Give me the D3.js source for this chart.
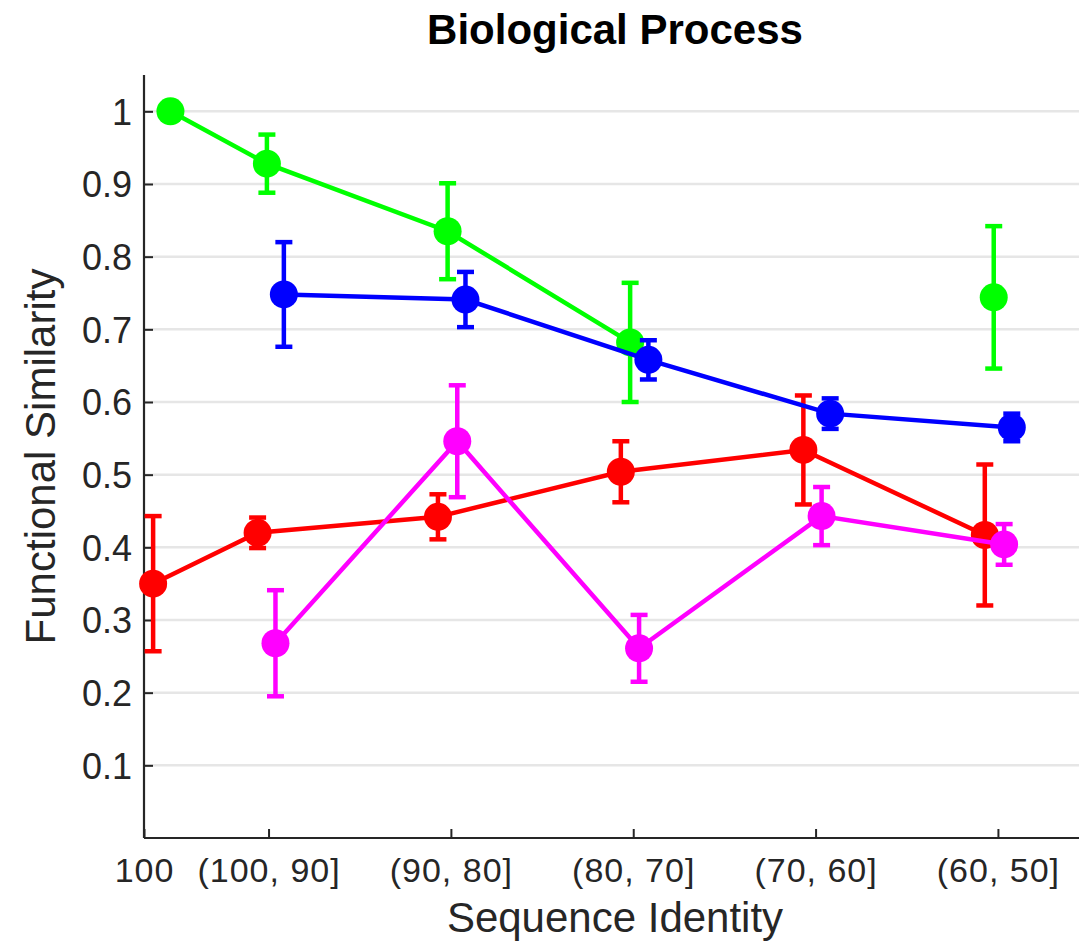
<!DOCTYPE html>
<html>
<head>
<meta charset="utf-8">
<script src="https://cdn.jsdelivr.net/npm/d3@7"></script>
<style>
  body { margin: 0; background: #fff; }
  svg text { font-family: "Liberation Sans", Arial, Helvetica, sans-serif; fill: #262626; }
</style>
</head>
<body>
<svg id="chart" width="1079" height="947"></svg>
<script>
// categories along the x axis and where their ticks sit
var categories = ["100", "(100, 90]", "(90, 80]", "(80, 70]", "(70, 60]", "(60, 50]"];
var tickPos = [0.317, 1, 2, 3, 4, 5];
var yTicks = [0.1, 0.2, 0.3, 0.4, 0.5, 0.6, 0.7, 0.8, 0.9, 1];

// series (x in axis units, mean, error)
var redX   = [0.367, 0.940, 1.929, 2.932, 3.933, 4.928];
var redY   = [0.350, 0.420, 0.442, 0.504, 0.534, 0.417];
var redErr = [0.093, 0.021, 0.031, 0.042, 0.075, 0.097];

var greenX   = [0.462, 0.991, 1.982, 2.983, null, 4.977];
var greenY   = [1.000, 0.928, 0.835, 0.682, null, 0.744];
var greenErr = [0, 0.040, 0.066, 0.082, null, 0.098];

var magentaX   = [null, 1.038, 2.035, 3.032, 4.033, 5.034];
var magentaY   = [null, 0.268, 0.546, 0.261, 0.443, 0.404];
var magentaErr = [null, 0.073, 0.077, 0.046, 0.040, 0.028];

var blueX   = [null, 1.084, 2.080, 3.083, 4.080, 5.076];
var blueY   = [null, 0.748, 0.741, 0.658, 0.584, 0.565];
var blueErr = [null, 0.072, 0.038, 0.027, 0.021, 0.019];

var series = [
  {color: "#ff0000", x: redX, y: redY, err: redErr},
  {color: "#00ff00", x: greenX, y: greenY, err: greenErr},
  {color: "#ff00ff", x: magentaX, y: magentaY, err: magentaErr},
  {color: "#0000ff", x: blueX, y: blueY, err: blueErr}
];

var svg = d3.select("#chart");
var pLeft = 144, pRight = 1086, pTop = 75, pBottom = 838;

var x = d3.scaleLinear().domain([0.317, 5.483]).range([pLeft, pRight]);
var y = d3.scaleLinear().domain([0, 1.05]).range([pBottom, pTop]);

// grid
svg.append("g")
  .selectAll("line")
  .data(yTicks)
  .enter().append("line")
    .attr("x1", pLeft).attr("x2", pRight)
    .attr("y1", function(d){ return y(d); })
    .attr("y2", function(d){ return y(d); })
    .attr("stroke", "#e6e6e6")
    .attr("stroke-width", 2.5);

// y axis
var yAxis = svg.append("g")
  .attr("transform", "translate(" + pLeft + ",0)")
  .call(d3.axisRight(y).tickValues(yTicks).tickSize(9)
        .tickFormat(function(d){ return d === 1 ? "1" : d3.format(".1f")(d); }));
yAxis.select(".domain").attr("stroke", "#262626").attr("stroke-width", 2.2)
  .attr("d", "M0," + pTop + "V" + pBottom);
yAxis.selectAll(".tick line").attr("stroke", "#262626").attr("stroke-width", 2);
yAxis.selectAll(".tick text")
  .attr("x", -12).attr("text-anchor", "end").attr("dy", "0.36em")
  .style("font-size", "36px").attr("fill", "#262626");

// x axis
var xAxis = svg.append("g")
  .attr("transform", "translate(0," + pBottom + ")")
  .call(d3.axisTop(x).tickValues(tickPos).tickSize(9)
        .tickFormat(function(d, i){ return categories[i]; }));
xAxis.select(".domain").attr("stroke", "#262626").attr("stroke-width", 2.2)
  .attr("d", "M" + pLeft + ",0H" + pRight);
xAxis.selectAll(".tick line").attr("stroke", "#262626").attr("stroke-width", 2);
xAxis.selectAll(".tick text")
  .attr("y", 44).attr("dy", 0).attr("text-anchor", "middle")
  .style("font-size", "34px").style("letter-spacing", "1px").attr("fill", "#262626");

// series
var line = d3.line()
  .defined(function(d){ return d.v != null; })
  .x(function(d){ return x(d.x); })
  .y(function(d){ return y(d.v); });

series.forEach(function(s){
  var pts = s.y.map(function(v, i){ return {x: s.x[i], v: v, e: s.err[i]}; });
  var g = svg.append("g");

  g.append("path")
    .datum(pts)
    .attr("d", line)
    .attr("fill", "none")
    .attr("stroke", s.color)
    .attr("stroke-width", 4.5);

  var bars = pts.filter(function(d){ return d.v != null && d.e > 0; });
  g.selectAll(".stem").data(bars).enter().append("line")
    .attr("x1", function(d){ return x(d.x); })
    .attr("x2", function(d){ return x(d.x); })
    .attr("y1", function(d){ return y(d.v - d.e); })
    .attr("y2", function(d){ return y(d.v + d.e); })
    .attr("stroke", s.color).attr("stroke-width", 4.5);
  [-1, 1].forEach(function(sign){
    g.selectAll(".cap" + sign).data(bars).enter().append("line")
      .attr("x1", function(d){ return x(d.x) - 8.5; })
      .attr("x2", function(d){ return x(d.x) + 8.5; })
      .attr("y1", function(d){ return y(d.v + sign * d.e); })
      .attr("y2", function(d){ return y(d.v + sign * d.e); })
      .attr("stroke", s.color).attr("stroke-width", 4.5);
  });

  g.selectAll("circle")
    .data(pts.filter(function(d){ return d.v != null; }))
    .enter().append("circle")
      .attr("cx", function(d){ return x(d.x); })
      .attr("cy", function(d){ return y(d.v); })
      .attr("r", 14)
      .attr("fill", s.color);
});

// labels
svg.append("text")
  .attr("x", (pLeft + pRight) / 2).attr("y", 44)
  .attr("text-anchor", "middle")
  .style("font-size", "42px").style("font-weight", "bold")
  .style("fill", "#000")
  .text("Biological Process");

svg.append("text")
  .attr("x", (pLeft + pRight) / 2).attr("y", 932)
  .attr("text-anchor", "middle")
  .style("font-size", "42px")
  .text("Sequence Identity");

svg.append("text")
  .attr("transform", "translate(55," + ((pTop + pBottom) / 2) + ") rotate(-90)")
  .attr("text-anchor", "middle")
  .style("font-size", "42px")
  .text("Functional Similarity");
</script>
</body>
</html>
